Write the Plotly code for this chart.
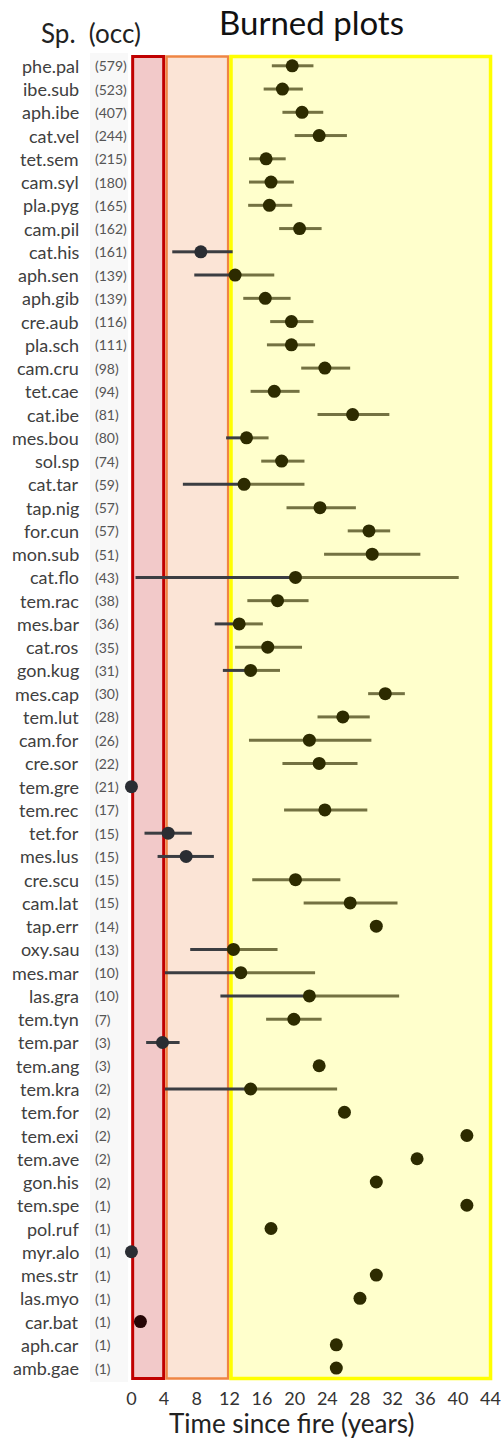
import plotly.graph_objects as go

species = ["phe.pal", "ibe.sub", "aph.ibe", "cat.vel", "tet.sem", "cam.syl", "pla.pyg", "cam.pil",
           "cat.his", "aph.sen", "aph.gib", "cre.aub", "pla.sch", "cam.cru", "tet.cae", "cat.ibe",
           "mes.bou", "sol.sp", "cat.tar", "tap.nig", "for.cun", "mon.sub", "cat.flo", "tem.rac",
           "mes.bar", "cat.ros", "gon.kug", "mes.cap", "tem.lut", "cam.for", "cre.sor", "tem.gre",
           "tem.rec", "tet.for", "mes.lus", "cre.scu", "cam.lat", "tap.err", "oxy.sau", "mes.mar",
           "las.gra", "tem.tyn", "tem.par", "tem.ang", "tem.kra", "tem.for", "tem.exi", "tem.ave",
           "gon.his", "tem.spe", "pol.ruf", "myr.alo", "mes.str", "las.myo", "car.bat", "aph.car",
           "amb.gae"]
counts = [579, 523, 407, 244, 215, 180, 165, 162, 161, 139, 139, 116, 111, 98, 94, 81, 80, 74, 59,
          57, 57, 51, 43, 38, 36, 35, 31, 30, 28, 26, 22, 21, 17, 15, 15, 15, 15, 14, 13, 10, 10, 7,
          3, 3, 2, 2, 2, 2, 2, 1, 1, 1, 1, 1, 1, 1, 1]
means = [19.7, 18.5, 20.9, 23.0, 16.5, 17.1, 16.9, 20.6, 8.5, 12.7, 16.4, 19.6, 19.6, 23.7, 17.5,
         27.1, 14.1, 18.4, 13.8, 23.1, 29.1, 29.5, 20.1, 17.9, 13.2, 16.7, 14.6, 31.1, 25.9, 21.8,
         23.0, 0.0, 23.7, 4.5, 6.7, 20.1, 26.8, 30.0, 12.5, 13.4, 21.8, 19.9, 3.8, 23.0, 14.6, 26.1,
         41.1, 35.0, 30.0, 41.1, 17.1, 0.0, 30.0, 28.0, 1.1, 25.1, 25.1]
lows = [17.2, 16.2, 18.5, 20.0, 14.4, 14.4, 14.3, 18.1, 5.0, 7.7, 13.7, 17.0, 16.6, 20.8, 14.6,
        22.8, 11.6, 15.9, 6.3, 19.0, 26.5, 23.6, 0.5, 14.2, 10.2, 12.7, 11.2, 29.0, 22.8, 14.4,
        18.5, None, 18.7, 1.6, 3.2, 14.8, 21.1, None, 7.2, 4.1, 10.9, 16.5, 1.8, None, 4.1, None,
        None, None, None, None, None, None, None, None, None, None, None]
highs = [22.3, 21.0, 23.5, 26.4, 18.9, 19.9, 19.7, 23.3, 12.4, 17.5, 19.5, 22.3, 22.5, 26.8, 20.6,
         31.6, 16.8, 21.2, 21.2, 27.5, 31.7, 35.4, 40.1, 21.7, 16.1, 20.9, 18.2, 33.5, 29.2, 29.4,
         27.7, None, 28.9, 7.4, 10.1, 25.6, 32.6, None, 17.9, 22.5, 32.8, 23.3, 5.9, None, 25.2, None,
         None, None, None, None, None, None, None, None, None, None, None]
x_ticks = [0, 4, 8, 12, 16, 20, 24, 28, 32, 36, 40, 44]

FONT = "Lato"
rows = list(range(len(species)))

dark_x, dark_y, olive_x, olive_y = [], [], [], []
for i, (m, lo, hi) in enumerate(zip(means, lows, highs)):
    if lo is None:
        continue
    if lo < 12.5:
        dark_x += [lo, m, None]; dark_y += [i, i, None]
    else:
        olive_x += [lo, m, None]; olive_y += [i, i, None]
    if hi < 12.5:
        dark_x += [m, hi, None]; dark_y += [i, i, None]
    else:
        olive_x += [m, hi, None]; olive_y += [i, i, None]


def dot_color(v):
    if 0 < v < 3:
        return "#260606"
    if v < 12.2:
        return "#2a2d33"
    return "#2d2b00"


fig = go.Figure()
fig.add_trace(go.Scatter(x=olive_x, y=olive_y, mode="lines",
                         line=dict(color="rgba(50,47,0,0.68)", width=3),
                         hoverinfo="skip", showlegend=False, cliponaxis=False))
fig.add_trace(go.Scatter(x=dark_x, y=dark_y, mode="lines",
                         line=dict(color="#3b3d42", width=3),
                         hoverinfo="skip", showlegend=False, cliponaxis=False))
fig.add_trace(go.Scatter(x=means, y=rows, mode="markers",
                         marker=dict(size=13, color=[dot_color(v) for v in means], line=dict(width=0)),
                         showlegend=False, cliponaxis=False))

Y0, Y1 = -0.4, 56.45
shapes = [
    dict(type="rect", xref="paper", yref="paper", x0=-0.107, x1=-0.003, y0=0.0, y1=1.0,
         fillcolor="#f8f8f8", line=dict(width=0), layer="below"),
    dict(type="rect", x0=0.15, x1=3.95, y0=Y0, y1=Y1, fillcolor="#f2c9c9",
         line=dict(color="#c00000", width=3), layer="below"),
    dict(type="rect", x0=4.3, x1=11.85, y0=Y0, y1=Y1, fillcolor="#fbe4d6",
         line=dict(color="#ef8544", width=2.5), layer="below"),
    dict(type="rect", x0=12.2, x1=44.0, y0=Y0, y1=Y1, fillcolor="#ffffcc",
         line=dict(color="#ffff00", width=3.5), layer="below"),
]

annotations = []
for i, (s, c) in enumerate(zip(species, counts)):
    annotations.append(dict(x=-0.132, xref="paper", y=i, yref="y", text=s, showarrow=False,
                            xanchor="right", yanchor="middle",
                            font=dict(family=FONT, size=18, color="#404040")))
    annotations.append(dict(x=-0.1, xref="paper", y=i, yref="y", text=f"({c})", showarrow=False,
                            xanchor="left", yanchor="middle",
                            font=dict(family=FONT, size=14, color="#555555")))
annotations += [
    dict(x=0.5, xref="paper", y=1.0235, yref="paper", text="Burned plots", showarrow=False,
         xanchor="center", yanchor="middle", font=dict(family=FONT, size=33, color="#111111")),
    dict(x=-0.104, xref="paper", y=1.015, yref="paper", text="Sp.  (occ)", showarrow=False,
         xanchor="center", yanchor="middle", font=dict(family=FONT, size=26, color="#222222")),
    dict(x=0.447, xref="paper", y=-0.031, yref="paper", text="Time since fire (years)", showarrow=False,
         xanchor="center", yanchor="middle", font=dict(family=FONT, size=26, color="#222222")),
]

fig.update_layout(
    width=501, height=1448,
    margin=dict(l=129, r=8, t=53, b=66, autoexpand=False),
    plot_bgcolor="white", paper_bgcolor="white",
    shapes=shapes, annotations=annotations,
    xaxis=dict(range=[-0.3, 44.3], tickvals=x_ticks, showgrid=False, zeroline=False, automargin=False,
               showline=False, ticks="", ticklabelstandoff=4,
               tickfont=dict(family=FONT, size=18, color="#333333")),
    yaxis=dict(range=[56.6, -0.55], showgrid=False, zeroline=False, showline=False, automargin=False,
               showticklabels=False, ticks=""),
)
fig.write_html("out.html", config={"displayModeBar": False},
               post_script="document.body.style.margin='0';document.body.style.overflow='hidden';")
